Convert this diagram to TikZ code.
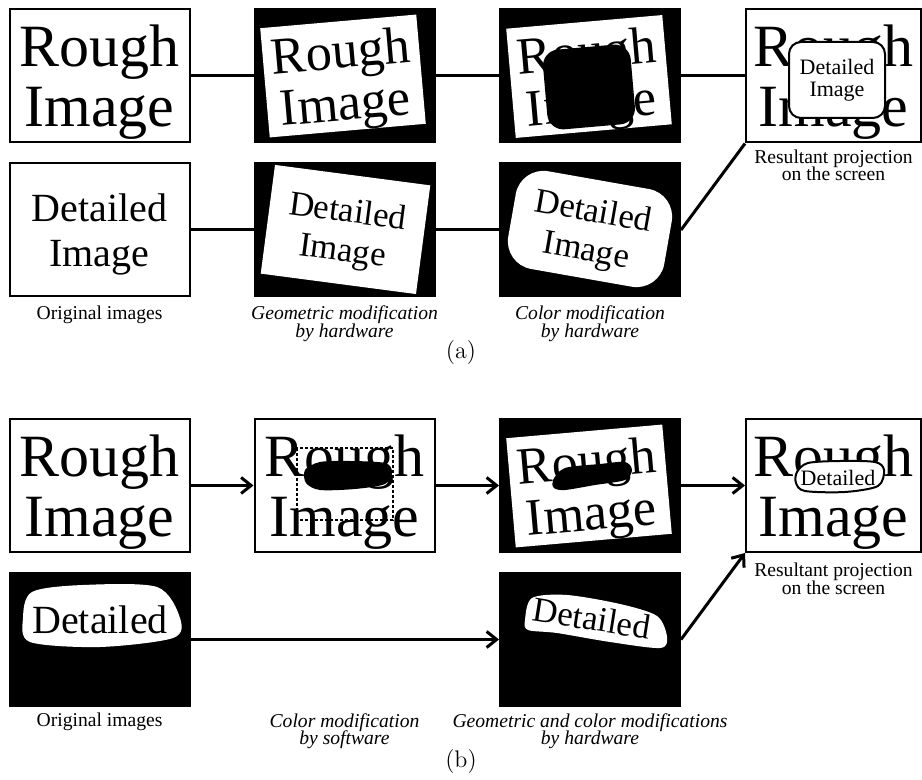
\documentclass[tikz,border=0pt]{standalone}
\usepackage{fontspec}
\newfontfamily\tms{Liberation Serif}
\usetikzlibrary{positioning,arrows.meta}

\newcommand\bigtxt{\tms\fontsize{30}{30}\selectfont}
\newcommand\midtxt{\tms\fontsize{20}{22.5}\selectfont}
\newcommand\smalltxt{\tms\fontsize{11}{11}\selectfont}
\newcommand\captxt{\tms\fontsize{9.8}{8.7}\selectfont\lineskiplimit=-5pt}

\tikzset{
  imgbox/.style={draw, line width=1pt, minimum width=90pt, minimum height=66.5pt, inner sep=0pt},
  darkbox/.style={imgbox, fill=black},
  rough/.style={align=center, text depth=0pt, font=\bigtxt, inner sep=0pt},
  det/.style={align=center, text depth=0pt, font=\midtxt, inner sep=0pt},
  tilted/.style={fill=white, minimum width=90pt, minimum height=63pt, scale=.87, transform shape, rotate=#1},
  captext/.style={align=center, font=\captxt, inner sep=0pt},
  captit/.style={captext, font=\captxt\itshape},
  link/.style={line width=1.5pt},
  arr/.style={line width=1.5pt, -{Straight Barb[length=5pt,width=8pt]}},
  blot/.style={fill=black, draw=none},
}

\begin{document}
\begin{tikzpicture}[x=0.5pt, y=-0.5pt]
\useasboundingbox (0,0) rectangle (922,780);

% (a) first row
\node[imgbox, rough] (origRough) at (99.5,76) {Rough\\Image};
\node[darkbox] (geoRough) at (344.5,76) {};
\node[rough, tilted=5] (geoRoughImg) at (343,76) {Rough\\Image};
\node[darkbox] (colRough) at (590,76) {};
\node[rough, tilted=5] (colRoughImg) at (589,76.5) {Rough\\Image};
\node[blot, rounded corners=8pt, minimum width=44pt, minimum height=40pt, rotate=5] (colRoughBlot) at (589,87) {};
\node[imgbox, rough, minimum width=87.5pt] (resA) at (833.5,76) {Rough\\Image};
\node[draw, line width=1pt, fill=white, rounded corners=6pt, minimum width=48pt, minimum height=38pt,
      align=center, font=\smalltxt, inner sep=0pt] (resAInset) at (837,80) {Detailed\\Image};

% (a) second row
\node[imgbox, det] (origDet) at (99.5,230) {Detailed\\Image};
\node[darkbox] (geoDet) at (344.5,230) {};
\node[det, tilted=-7.5] (geoDetImg) at (345.5,229.5) {Detailed\\Image};
\node[darkbox] (colDet) at (590,230) {};
\node[det, tilted=-10, rounded corners=14pt, minimum width=91pt, minimum height=57pt] (colDetImg) at (590,229) {Detailed\\Image};

\draw[link] (origRough) -- (geoRough);
\draw[link] (geoRough) -- (colRough);
\draw[link] (colRough) -- (resA);
\draw[link] (origDet) -- (geoDet);
\draw[link] (geoDet) -- (colDet);
\draw[link] (colDet.east) -- (resA.south west);

\node[captext, below=4pt of origDet] (capOrigA) {Original images};
\node[captit, below=4pt of geoDet] (capGeoA) {Geometric modification\\by hardware};
\node[captit, below=4pt of colDet] (capColA) {Color modification\\by hardware};
\node[captext, below=3pt of resA] (capResA) {Resultant projection\\on the screen};
\node[font=\fontsize{12}{12}\selectfont] (labA) at (461,353) {(a)};

% (b) first row
\node[imgbox, rough] (origRoughB) at (99.5,485.5) {Rough\\Image};
\node[imgbox, rough] (swRough) at (344.5,485.5) {Rough\\Image};
\fill[blot] plot[smooth cycle] coordinates {(305,470) (320,462) (350,461) (385,463) (392,472) (385,484) (355,489) (320,490) (306,483)};
\draw[line width=.6pt, dash pattern=on 1.5pt off 1pt] (297,448) rectangle (393,520);
\node[darkbox] (hwRough) at (590,485.5) {};
\node[rough, tilted=5] (hwRoughImg) at (589,486) {Rough\\Image};
\fill[blot] plot[smooth cycle] coordinates {(553,480) (565,468) (600,464) (625,462) (632,470) (625,480) (595,485) (565,490) (554,488)};
\node[imgbox, rough, minimum width=87.5pt] (resB) at (833.5,485.5) {Rough\\Image};
\filldraw[fill=white, line width=1pt] plot[smooth cycle] coordinates {(797,472) (808,463) (840,461) (875,462) (884,470) (878,486) (845,492) (805,491) (796,483)};
\node[font=\smalltxt, inner sep=0pt] (resBInset) at (838,478) {Detailed};

% (b) second row
\node[darkbox] (origDetB) at (99.5,639.5) {};
\fill[white] plot[smooth cycle] coordinates {(23,618) (32,592) (83,585) (157,587) (180,618) (173,638) (100,647) (30,642)};
\node[det] (origDetBTxt) at (100,619.5) {Detailed};
\node[darkbox] (hwDet) at (590,639.5) {};
\fill[white] plot[smooth cycle] coordinates {(525,620) (532,598) (567,595) (620,604) (657,616) (667,637) (660,648) (610,642) (557,633) (528,630)};
\node[det, scale=.87, transform shape, rotate=-9] (hwDetTxt) at (592,618) {Detailed};

\draw[arr] (origRoughB) -- (swRough);
\draw[arr] (swRough) -- (hwRough);
\draw[arr] (hwRough) -- (resB);
\draw[arr] (origDetB) -- (hwDet);
\draw[arr] (hwDet.east) -- (resB.south west);

\node[captext, below=3pt of origDetB] (capOrigB) {Original images};
\node[captit, anchor=north] (capSwB) at (swRough |- capOrigB.north) {Color modification\\by software};
\node[captit, below=3pt of hwDet] (capHwB) {Geometric and color modifications\\by hardware};
\node[captext, below=5pt of resB] (capResB) {Resultant projection\\on the screen};
\node[font=\fontsize{12}{12}\selectfont] (labB) at (461,762) {(b)};
\end{tikzpicture}
\end{document}
